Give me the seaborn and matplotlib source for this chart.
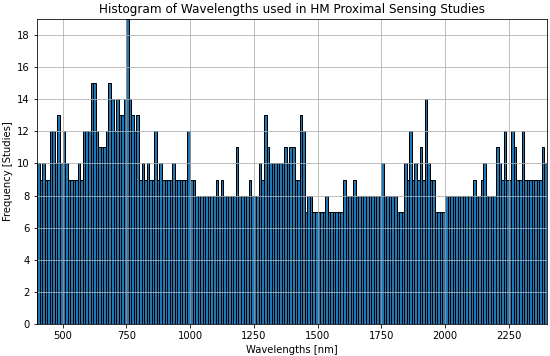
import numpy as np
import pandas as pd
import matplotlib
matplotlib.use("Agg")
import matplotlib.pyplot as plt
from matplotlib.ticker import MultipleLocator
import seaborn as sns

# histogram bins (nm)
bin_start = 400
bin_stop = 2400
bin_width = 10

# studies per 10 nm bin (one row = 100 nm)
counts = [
    10, 9, 10, 9, 9, 12, 12, 10, 13, 10,      # 400
    12, 10, 9, 9, 9, 9, 10, 9, 12, 12,        # 500
    12, 15, 15, 12, 11, 11, 11, 12, 15, 14,   # 600
    12, 14, 13, 13, 14, 19, 14, 13, 12, 13,   # 700
    9, 10, 9, 10, 9, 9, 12, 9, 10, 9,         # 800
    9, 9, 9, 10, 9, 9, 9, 9, 9, 12,           # 900
    9, 9, 8, 8, 8, 8, 8, 8, 8, 8,             # 1000
    9, 8, 9, 8, 8, 8, 8, 8, 11, 8,            # 1100
    8, 8, 8, 9, 8, 8, 8, 10, 9, 13,           # 1200
    11, 10, 10, 10, 10, 10, 10, 11, 10, 11,   # 1300
    11, 9, 9, 13, 12, 7, 8, 8, 7, 7,          # 1400
    7, 7, 7, 8, 7, 7, 7, 7, 7, 7,             # 1500
    9, 8, 8, 8, 9, 8, 8, 8, 8, 8,             # 1600
    8, 8, 8, 8, 8, 10, 8, 8, 8, 8,            # 1700
    8, 7, 7, 7, 10, 9, 12, 9, 10, 9,          # 1800
    11, 9, 14, 10, 9, 9, 7, 7, 7, 7,          # 1900
    8, 8, 8, 8, 8, 8, 8, 8, 8, 8,             # 2000
    8, 9, 8, 8, 9, 10, 8, 8, 8, 8,            # 2100
    11, 10, 9, 12, 9, 9, 12, 11, 9, 9,        # 2200
    12, 9, 9, 9, 9, 9, 9, 9, 11, 10,          # 2300
]

edges = list(range(bin_start, bin_stop + bin_width, bin_width))
df = pd.DataFrame({"wavelength": np.array(edges[:-1]) + bin_width / 2,
                   "studies": counts})

dpi = 72
fig = plt.figure(figsize=(550 / dpi, 356 / dpi), dpi=dpi)
ax = fig.add_axes([37 / 550, 1 - 324 / 356, 510 / 550, 305 / 356])

sns.histplot(data=df, x="wavelength", weights="studies", bins=edges,
             color="#1f77b4", edgecolor="black", linewidth=1, alpha=1, ax=ax)

ax.set_xlim(bin_start, bin_stop)
ax.set_ylim(0, 19)
ax.yaxis.set_major_locator(MultipleLocator(2))
ax.grid(True)
ax.set_title("Histogram of Wavelengths used in HM Proximal Sensing Studies")
ax.set_xlabel("Wavelengths [nm]")
ax.set_ylabel("Frequency [Studies]")

fig.savefig("out.png", dpi=dpi)
